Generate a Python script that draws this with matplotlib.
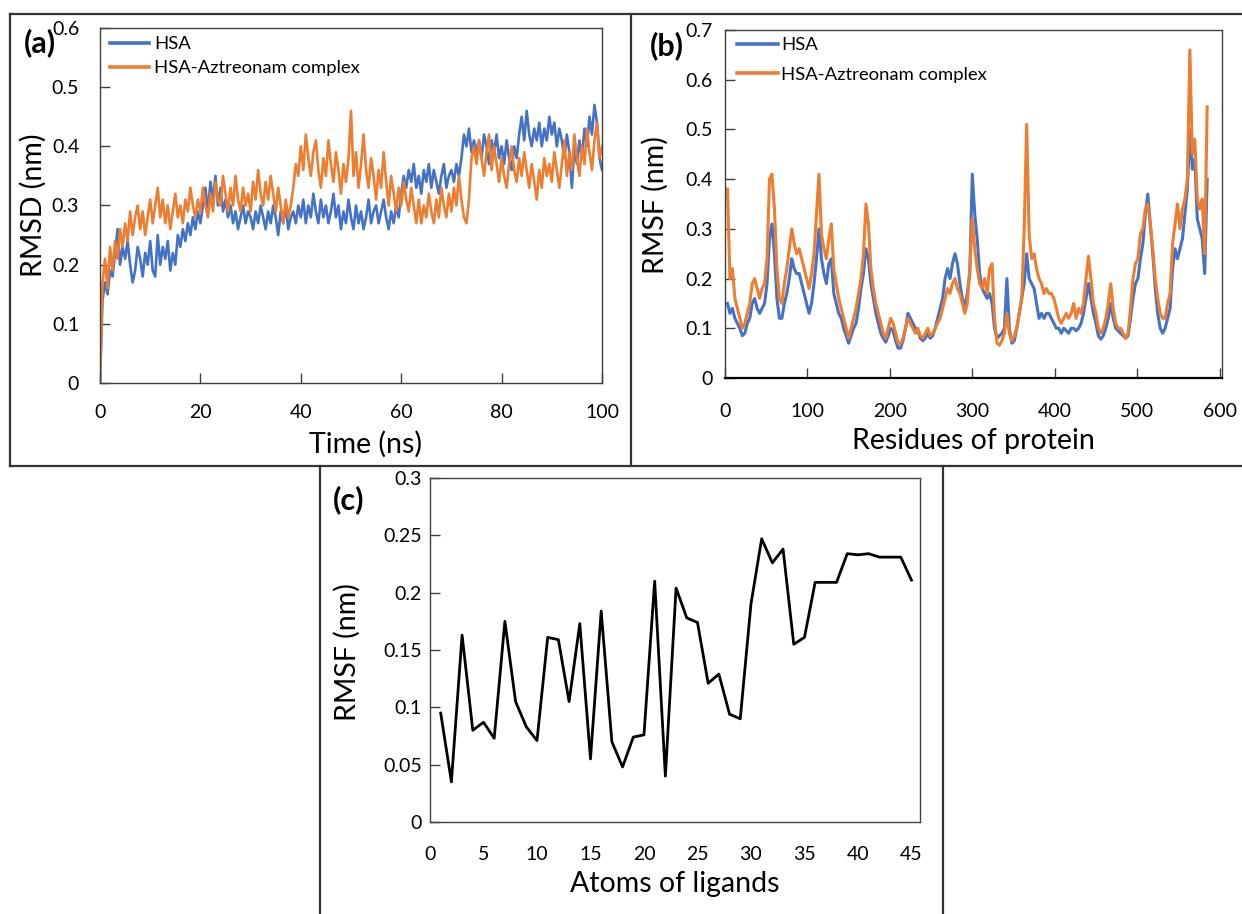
import numpy as np
import matplotlib
matplotlib.use("Agg")
import matplotlib.pyplot as plt
from matplotlib.lines import Line2D
from matplotlib.ticker import FuncFormatter

W, H = 1242, 914

plt.rcParams['font.family'] = ['Lato', 'DejaVu Sans']

# (a) RMSD vs time, one value every 0.5 ns
time_ns = np.arange(0, 100.5, 0.5)
rmsd_hsa = [
    0.0, 0.14, 0.17, 0.15, 0.19, 0.18, 0.22, 0.26, 0.20, 0.23,
    0.21, 0.24, 0.20, 0.17, 0.19, 0.23, 0.21, 0.18, 0.22, 0.20,
    0.24, 0.19, 0.18, 0.25, 0.20, 0.23, 0.21, 0.24, 0.19, 0.22,
    0.20, 0.25, 0.23, 0.26, 0.24, 0.27, 0.25, 0.28, 0.26, 0.29,
    0.27, 0.30, 0.33, 0.29, 0.34, 0.31, 0.35, 0.30, 0.33, 0.29,
    0.31, 0.28, 0.30, 0.27, 0.29, 0.26, 0.28, 0.30, 0.27, 0.29,
    0.28, 0.26, 0.29, 0.27, 0.30, 0.28, 0.26, 0.29, 0.27, 0.30,
    0.28, 0.25, 0.29, 0.27, 0.30, 0.26, 0.28, 0.29, 0.27, 0.30,
    0.28, 0.31, 0.27, 0.30, 0.28, 0.32, 0.29, 0.27, 0.31, 0.28,
    0.30, 0.27, 0.29, 0.32, 0.28, 0.30, 0.26, 0.29, 0.27, 0.31,
    0.28, 0.26, 0.30, 0.27, 0.29, 0.26, 0.28, 0.31, 0.27, 0.29,
    0.30, 0.27, 0.29, 0.31, 0.28, 0.26, 0.29, 0.27, 0.30, 0.28,
    0.32, 0.35, 0.33, 0.36, 0.34, 0.37, 0.33, 0.35, 0.32, 0.36,
    0.34, 0.37, 0.33, 0.36, 0.34, 0.32, 0.35, 0.37, 0.33, 0.35,
    0.36, 0.34, 0.37, 0.35, 0.38, 0.42, 0.40, 0.43, 0.39, 0.41,
    0.39, 0.41, 0.38, 0.42, 0.40, 0.37, 0.41, 0.39, 0.42, 0.38,
    0.40, 0.37, 0.41, 0.38, 0.36, 0.40, 0.38, 0.42, 0.45, 0.41,
    0.46, 0.42, 0.40, 0.43, 0.41, 0.44, 0.40, 0.43, 0.41, 0.45,
    0.42, 0.44, 0.40, 0.43, 0.41, 0.38, 0.42, 0.39, 0.33, 0.40,
    0.37, 0.41, 0.38, 0.43, 0.40, 0.45, 0.42, 0.47, 0.44, 0.38,
    0.36,
]
rmsd_complex = [
    0.0, 0.17, 0.21, 0.16, 0.23, 0.19, 0.24, 0.21, 0.26, 0.23,
    0.27, 0.24, 0.29, 0.25, 0.28, 0.30, 0.26, 0.29, 0.25, 0.28,
    0.31, 0.27, 0.30, 0.33, 0.28, 0.31, 0.27, 0.30, 0.26, 0.29,
    0.32, 0.28, 0.30, 0.27, 0.31, 0.29, 0.33, 0.30, 0.28, 0.31,
    0.29, 0.33, 0.30, 0.28, 0.32, 0.29, 0.34, 0.31, 0.30, 0.35,
    0.32, 0.29, 0.33, 0.30, 0.35, 0.31, 0.29, 0.33, 0.30, 0.32,
    0.29, 0.34, 0.31, 0.36, 0.32, 0.30, 0.34, 0.31, 0.35, 0.32,
    0.29, 0.33, 0.30, 0.27, 0.31, 0.28, 0.30, 0.33, 0.37, 0.35,
    0.40, 0.36, 0.42, 0.38, 0.35, 0.39, 0.41, 0.36, 0.33, 0.38,
    0.35, 0.41, 0.37, 0.34, 0.39, 0.36, 0.32, 0.37, 0.34, 0.38,
    0.46, 0.35, 0.39, 0.33, 0.37, 0.42, 0.36, 0.33, 0.38, 0.35,
    0.31, 0.36, 0.33, 0.39, 0.34, 0.30, 0.35, 0.32, 0.29, 0.33,
    0.30, 0.34, 0.31, 0.29, 0.33, 0.30, 0.27, 0.31, 0.27, 0.30,
    0.28, 0.32, 0.29, 0.27, 0.31, 0.28, 0.33, 0.30, 0.28, 0.32,
    0.29, 0.33, 0.30, 0.35, 0.31, 0.28, 0.27, 0.31, 0.38, 0.40,
    0.37, 0.41, 0.38, 0.35, 0.39, 0.42, 0.36, 0.40, 0.37, 0.34,
    0.38, 0.35, 0.33, 0.37, 0.40, 0.36, 0.34, 0.38, 0.35, 0.39,
    0.36, 0.33, 0.37, 0.34, 0.31, 0.36, 0.33, 0.38, 0.35, 0.37,
    0.34, 0.39, 0.36, 0.33, 0.37, 0.41, 0.35, 0.39, 0.36, 0.42,
    0.38, 0.35, 0.40, 0.37, 0.43, 0.39, 0.36, 0.41, 0.44, 0.38,
    0.40,
]

# (b) RMSF per residue, every third residue
residues = np.arange(3, 586, 3)
rmsf_hsa = [
    0.15, 0.13, 0.14, 0.12, 0.11, 0.10, 0.085, 0.09, 0.11, 0.12,
    0.15, 0.16, 0.14, 0.13, 0.14, 0.15, 0.19, 0.28, 0.31, 0.25,
    0.16, 0.12, 0.12, 0.15, 0.17, 0.20, 0.24, 0.22, 0.21, 0.21,
    0.19, 0.17, 0.15, 0.13, 0.15, 0.19, 0.24, 0.30, 0.24, 0.21,
    0.19, 0.23, 0.24, 0.17, 0.15, 0.13, 0.12, 0.10, 0.085, 0.07,
    0.085, 0.10, 0.11, 0.14, 0.18, 0.21, 0.26, 0.24, 0.19, 0.16,
    0.13, 0.11, 0.09, 0.08, 0.072, 0.085, 0.10, 0.095, 0.075, 0.06,
    0.06, 0.075, 0.10, 0.13, 0.12, 0.11, 0.10, 0.095, 0.08, 0.075,
    0.08, 0.09, 0.08, 0.085, 0.10, 0.12, 0.14, 0.16, 0.20, 0.22,
    0.20, 0.23, 0.25, 0.23, 0.19, 0.16, 0.14, 0.17, 0.21, 0.41,
    0.33, 0.28, 0.21, 0.18, 0.17, 0.16, 0.17, 0.15, 0.10, 0.08,
    0.085, 0.09, 0.10, 0.20, 0.10, 0.07, 0.075, 0.10, 0.13, 0.16,
    0.19, 0.25, 0.20, 0.19, 0.18, 0.15, 0.12, 0.13, 0.12, 0.13,
    0.13, 0.12, 0.11, 0.10, 0.10, 0.09, 0.10, 0.095, 0.09, 0.10,
    0.10, 0.095, 0.10, 0.11, 0.13, 0.16, 0.19, 0.16, 0.13, 0.11,
    0.085, 0.078, 0.085, 0.10, 0.12, 0.15, 0.12, 0.10, 0.095, 0.09,
    0.085, 0.08, 0.085, 0.12, 0.16, 0.19, 0.20, 0.24, 0.27, 0.33,
    0.37, 0.31, 0.25, 0.18, 0.13, 0.10, 0.09, 0.10, 0.12, 0.14,
    0.22, 0.26, 0.24, 0.26, 0.28, 0.33, 0.38, 0.50, 0.42, 0.44,
    0.32, 0.30, 0.28, 0.21, 0.40,
]
rmsf_complex = [
    0.38, 0.20, 0.22, 0.16, 0.14, 0.12, 0.10, 0.11, 0.13, 0.15,
    0.19, 0.20, 0.18, 0.16, 0.18, 0.19, 0.24, 0.40, 0.41, 0.34,
    0.22, 0.16, 0.15, 0.19, 0.22, 0.26, 0.30, 0.27, 0.25, 0.26,
    0.24, 0.22, 0.20, 0.18, 0.21, 0.25, 0.33, 0.41, 0.29, 0.26,
    0.24, 0.28, 0.31, 0.22, 0.19, 0.16, 0.14, 0.12, 0.10, 0.08,
    0.10, 0.12, 0.14, 0.17, 0.20, 0.25, 0.35, 0.31, 0.22, 0.18,
    0.15, 0.13, 0.11, 0.09, 0.08, 0.10, 0.12, 0.11, 0.09, 0.07,
    0.068, 0.08, 0.10, 0.12, 0.11, 0.10, 0.09, 0.10, 0.085, 0.08,
    0.09, 0.10, 0.085, 0.09, 0.10, 0.11, 0.12, 0.14, 0.16, 0.18,
    0.17, 0.19, 0.20, 0.18, 0.17, 0.15, 0.13, 0.15, 0.22, 0.32,
    0.26, 0.22, 0.19, 0.18, 0.20, 0.17, 0.22, 0.23, 0.12, 0.07,
    0.066, 0.075, 0.09, 0.13, 0.09, 0.075, 0.085, 0.10, 0.13, 0.16,
    0.30, 0.51, 0.29, 0.24, 0.25, 0.22, 0.20, 0.19, 0.17, 0.18,
    0.17, 0.17, 0.16, 0.14, 0.12, 0.11, 0.12, 0.13, 0.12, 0.13,
    0.15, 0.12, 0.14, 0.13, 0.15, 0.20, 0.245, 0.20, 0.15, 0.13,
    0.10, 0.09, 0.10, 0.12, 0.15, 0.19, 0.14, 0.11, 0.10, 0.10,
    0.09, 0.08, 0.09, 0.14, 0.20, 0.23, 0.24, 0.29, 0.30, 0.34,
    0.35, 0.31, 0.26, 0.20, 0.16, 0.13, 0.12, 0.12, 0.15, 0.17,
    0.27, 0.31, 0.35, 0.30, 0.34, 0.36, 0.40, 0.66, 0.45, 0.48,
    0.36, 0.34, 0.36, 0.25, 0.545,
]

# (c) ligand atom RMSF
atoms = np.arange(1, 46)
rmsf_ligand = [
    0.095, 0.035, 0.163, 0.080, 0.087, 0.073, 0.175, 0.105, 0.083, 0.071,
    0.161, 0.159, 0.105, 0.173, 0.055, 0.184, 0.070, 0.048, 0.074, 0.076,
    0.210, 0.040, 0.204, 0.178, 0.174, 0.121, 0.129, 0.094, 0.090, 0.190,
    0.247, 0.226, 0.238, 0.155, 0.161, 0.209, 0.209, 0.209, 0.234, 0.233,
    0.234, 0.231, 0.231, 0.231, 0.211,
]

blue = '#4472C4'
orange = '#ED7D31'
tick_fs = 14
label_fs = 20.5

fig = plt.figure(figsize=(W / 100, H / 100), dpi=100)


def px_axes(l, t, r, b):
    return fig.add_axes([l / W, 1 - b / H, (r - l) / W, (b - t) / H])


def fx(x):
    return x / W


def fy(y):
    return 1 - y / H


def style(ax, xpad, ypad):
    for s in ax.spines.values():
        s.set_color('#404040')
        s.set_linewidth(1.0)
    ax.tick_params(direction='in', length=7, width=1, labelsize=tick_fs, colors='#404040', labelcolor='black')
    ax.tick_params(axis='x', pad=xpad)
    ax.tick_params(axis='y', pad=ypad)
    ax.yaxis.set_major_formatter(FuncFormatter(lambda v, p: f'{v:g}'))


# panel frames
frame = dict(transform=fig.transFigure, color='#333333', lw=1.6)
fig.add_artist(Line2D([fx(10), fx(1242)], [fy(14), fy(14)], **frame))
fig.add_artist(Line2D([fx(10), fx(1242)], [fy(466), fy(466)], **frame))
fig.add_artist(Line2D([fx(10), fx(10)], [fy(14), fy(466)], **frame))
fig.add_artist(Line2D([fx(631), fx(631)], [fy(14), fy(466)], **frame))
fig.add_artist(Line2D([fx(320), fx(320)], [fy(466), fy(914)], **frame))
fig.add_artist(Line2D([fx(943), fx(943)], [fy(466), fy(914)], **frame))

# (a)
ax1 = px_axes(100, 28, 602, 383)
ax1.plot(time_ns, rmsd_hsa, color=blue, lw=1.9, label='HSA')
ax1.plot(time_ns, rmsd_complex, color=orange, lw=1.9, label='HSA-Aztreonam complex')
ax1.set_xlim(0, 100)
ax1.set_ylim(0, 0.6)
ax1.set_xticks([0, 20, 40, 60, 80, 100])
ax1.set_yticks([0, 0.1, 0.2, 0.3, 0.4, 0.5, 0.6])
style(ax1, 15, 15)
leg = ax1.legend(loc='upper left', bbox_to_anchor=(fx(110), fy(36)), bbox_transform=fig.transFigure,
                 frameon=False, fontsize=13.3, handlelength=2.1, handletextpad=0.3,
                 labelspacing=0.45, borderpad=0, borderaxespad=0)
for ln in leg.get_lines():
    ln.set_linewidth(2.6)
fig.text(fx(33), fy(205), 'RMSD (nm)', rotation=90, ha='center', va='center', fontsize=label_fs)
fig.text(fx(366), fy(444), 'Time (ns)', ha='center', va='center', fontsize=label_fs)
fig.text(fx(24), fy(43), '(a)', ha='left', va='center', fontsize=22, fontweight='bold')

# (b)
ax2 = px_axes(725, 30, 1222, 378)
ax2.plot(residues, rmsf_hsa, color=blue, lw=2.2, label='HSA')
ax2.plot(residues, rmsf_complex, color=orange, lw=2.2, label='HSA-Aztreonam complex')
ax2.set_xlim(0, 603)
ax2.set_ylim(0, 0.7)
ax2.set_xticks([0, 100, 200, 300, 400, 500, 600])
ax2.set_yticks([0, 0.1, 0.2, 0.3, 0.4, 0.5, 0.6, 0.7])
style(ax2, 18, 9)
ax2.spines['bottom'].set_color('black')
ax2.spines['bottom'].set_linewidth(1.6)
leg = ax2.legend(loc='upper left', bbox_to_anchor=(fx(737), fy(37)), bbox_transform=fig.transFigure,
                 frameon=False, fontsize=13.3, handlelength=2.2, handletextpad=0.2,
                 labelspacing=0.75, borderpad=0, borderaxespad=0)
for ln in leg.get_lines():
    ln.set_linewidth(2.6)
fig.text(fx(655), fy(205), 'RMSF (nm)', rotation=90, ha='center', va='center', fontsize=label_fs)
fig.text(fx(973), fy(441), 'Residues of protein', ha='center', va='center', fontsize=label_fs)
fig.text(fx(650), fy(46), '(b)', ha='left', va='center', fontsize=22, fontweight='bold')

# (c)
ax3 = px_axes(430, 478, 920, 822)
ax3.plot(atoms, rmsf_ligand, color='black', lw=2.0)
ax3.set_xlim(0, 45.8)
ax3.set_ylim(0, 0.3)
ax3.set_xticks(np.arange(0, 46, 5))
ax3.set_yticks([0, 0.05, 0.1, 0.15, 0.2, 0.25, 0.3])
style(ax3, 17, 6)
ax3.tick_params(axis='x', length=0)
fig.text(fx(347), fy(652), 'RMSF (nm)', rotation=90, ha='center', va='center', fontsize=label_fs)
fig.text(fx(675), fy(884), 'Atoms of ligands', ha='center', va='center', fontsize=label_fs)
fig.text(fx(333), fy(500), '(c)', ha='left', va='center', fontsize=22, fontweight='bold')

fig.savefig('out.png', dpi=100)
